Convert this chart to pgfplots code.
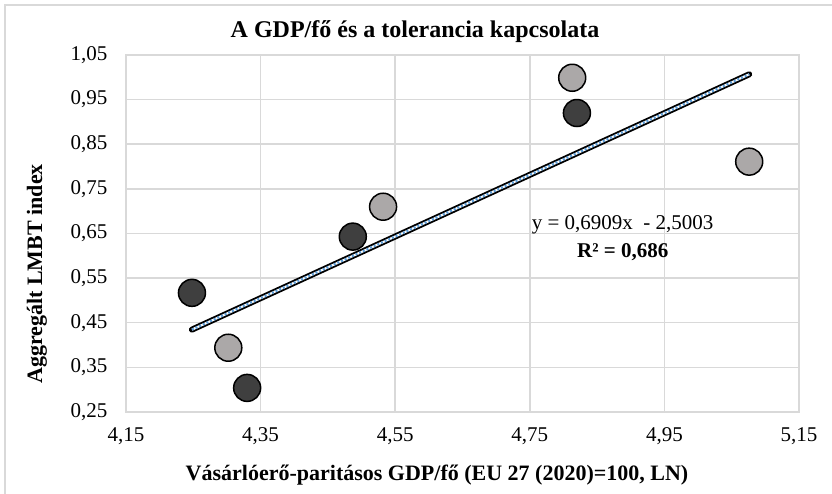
\documentclass[border=0pt]{standalone}
\usepackage{fontspec}
\setmainfont{Liberation Serif}
\usepackage{pgfplots}
\pgfplotsset{compat=1.18}
\definecolor{gridc}{HTML}{D9D9D9}
\definecolor{darkpt}{HTML}{3F3F3F}
\definecolor{lightpt}{HTML}{ABA8A8}
\definecolor{trendblue}{HTML}{5B9BD5}
\begin{document}
\begin{tikzpicture}[x=1pt,y=1pt]
\useasboundingbox (0pt,0pt) rectangle (832pt,494pt);
\draw[gridc,line width=2pt] (5pt,-10pt) -- (5pt,489pt) -- (842pt,489pt);
\begin{axis}[at={(126pt,82pt)}, anchor=south west, scale only axis,
  width=673pt, height=357pt,
  xmin=4.15, xmax=5.15, ymin=0.25, ymax=1.05,
  xtick={4.15,4.35,4.55,4.75,4.95,5.15},
  xticklabels={{4,15},{4,35},{4,55},{4,75},{4,95},{5,15}},
  ytick={0.25,0.35,0.45,0.55,0.65,0.75,0.85,0.95,1.05},
  yticklabels={{0,25},{0,35},{0,45},{0,55},{0,65},{0,75},{0,85},{0,95},{1,05}},
  grid=major, major grid style={gridc,line width=1.5pt},
  axis line style={gridc,line width=1.5pt},
  tick style={draw=none},
  tick label style={font=\fontsize{21}{24}\selectfont},
  xticklabel style={yshift=-12pt},
  yticklabel style={xshift=-15pt},
  clip=false]
\addplot[only marks, mark=*, mark size=13.5pt, mark options={fill=darkpt, draw=black, line width=1.5pt}]
  coordinates {(4.248,0.517) (4.330,0.304) (4.487,0.643) (4.820,0.920)};
\addplot[only marks, mark=*, mark size=13.5pt, mark options={fill=lightpt, draw=black, line width=1.5pt}]
  coordinates {(4.302,0.394) (4.532,0.710) (4.813,0.999) (5.076,0.811)};
\addplot[black, line width=6pt, line cap=round] coordinates {(4.248,0.4346) (5.076,1.0067)};
\addplot[white, line width=2.2pt] coordinates {(4.248,0.4346) (5.076,1.0067)};
\addplot[trendblue, line width=2.2pt, dash pattern=on 2pt off 2pt] coordinates {(4.248,0.4346) (5.076,1.0067)};
\node[font=\fontsize{21}{24}\selectfont] at (axis cs:4.888,0.670) {y = 0,6909x \ - 2,5003};
\node[font=\bfseries\fontsize{21}{24}\selectfont] at (axis cs:4.888,0.608) {R² = 0,686};
\end{axis}
\node[font=\bfseries\fontsize{24}{28}\selectfont] at (415pt,462pt) {A GDP/fő és a tolerancia kapcsolata};
\node[font=\bfseries\fontsize{22}{26}\selectfont] at (437pt,19pt) {Vásárlóerő-paritásos GDP/fő (EU 27 (2020)=100, LN)};
\node[font=\bfseries\fontsize{22}{26}\selectfont, rotate=90] at (37pt,220pt) {Aggregált LMBT index};
\end{tikzpicture}
\end{document}
